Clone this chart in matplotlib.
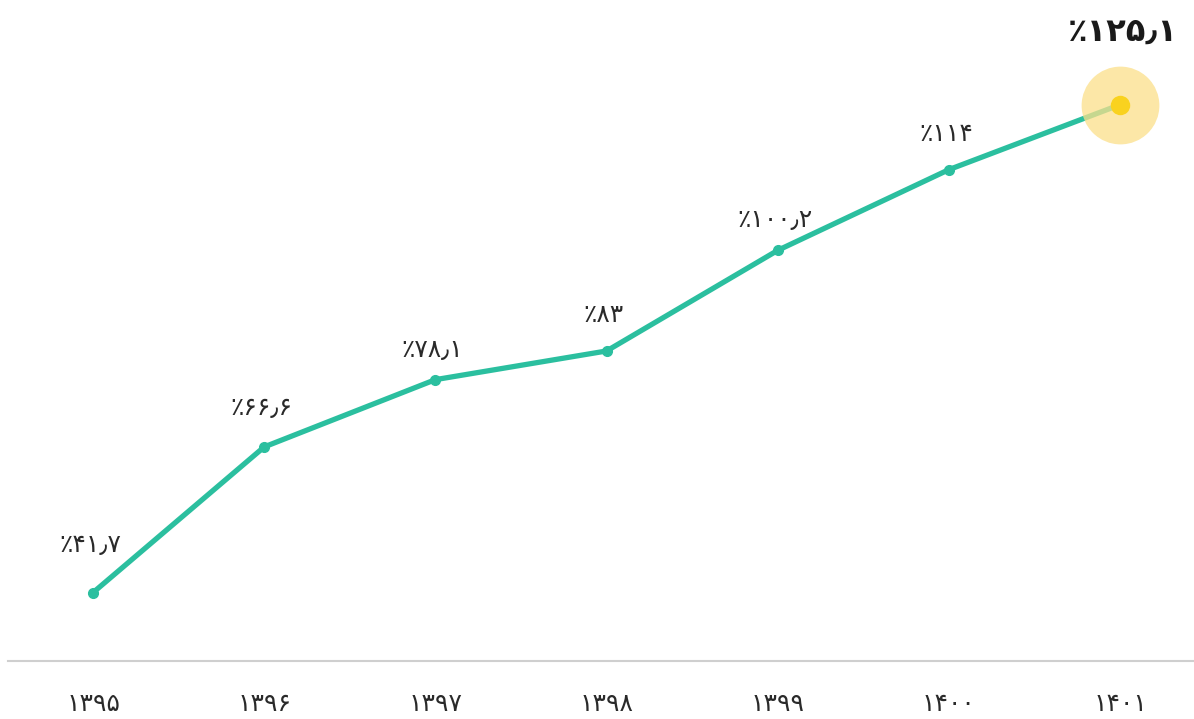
import matplotlib; matplotlib.use('Agg')
import matplotlib.pyplot as plt

years = [1395, 1396, 1397, 1398, 1399, 1400, 1401]
values = [41.7, 66.6, 78.1, 83, 100.2, 114, 125.1]
# label offsets above each point (points)
lab_dy = [34, 28, 21, 26, 22, 26]

fa = str.maketrans('0123456789.', '۰۱۲۳۴۵۶۷۸۹٫')
def fa_num(v):
    s = ('%g' % v).translate(fa)
    return '٪' + s

teal = '#2bbf9f'
txt = '#2a2a2a'

fig = plt.figure(figsize=(11.94, 7.19), dpi=100)
ax = fig.add_axes([8/1194, 58/719, 1186/1194, 661/719])
x = list(range(len(years)))
ax.plot(x, values, color=teal, lw=3.8, solid_capstyle='round', zorder=2)
ax.plot(x[:-1], values[:-1], 'o', color=teal, ms=7, zorder=3)
ax.plot(x[-1], values[-1], 'o', color='#fbe08a', alpha=0.75, ms=56, mec='none', zorder=4)
ax.plot(x[-1], values[-1], 'o', color='#f9d21f', ms=14, mec='none', zorder=5)

for i in range(len(x) - 1):
    ax.annotate(fa_num(values[i]), (x[i], values[i]), xytext=(-2, lab_dy[i]),
                textcoords='offset points', ha='center', va='center',
                fontsize=18, color=txt, family='DejaVu Sans')
ax.annotate(fa_num(values[-1]), (x[-1], values[-1]), xytext=(2, 52),
            textcoords='offset points', ha='center', va='center',
            fontsize=23, fontweight='bold', color='#1a1a1a', family='DejaVu Sans')

ax.set_xlim(-0.497, 6.432)
ax.set_ylim(30, 143)
for s in ['top', 'right', 'left']:
    ax.spines[s].set_visible(False)
ax.spines['bottom'].set_color('#cfcfcf')
ax.spines['bottom'].set_linewidth(1.5)
ax.set_yticks([])
ax.set_xticks(x)
ax.set_xticklabels([str(y).translate(fa) for y in years], fontsize=18, color=txt)
ax.tick_params(axis='x', length=0, pad=22)

fig.savefig('out.png', dpi=100)
